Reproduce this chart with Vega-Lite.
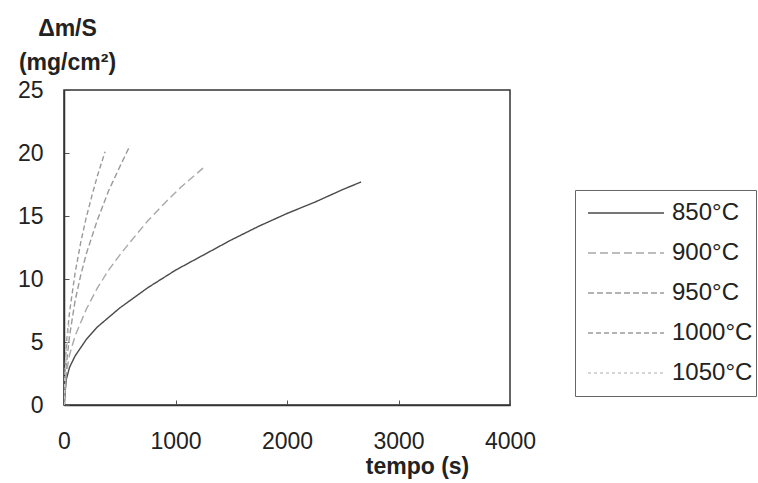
{
  "$schema": "https://vega.github.io/schema/vega-lite/v6.json",
  "width": 446,
  "height": 315,
  "autosize": {"type": "none"},
  "padding": {"left": 64, "top": 90, "right": 248, "bottom": 78},
  "background": "white",
  "config": {
    "view": {"stroke": "#333", "strokeWidth": 1.5},
    "font": "Liberation Sans",
    "axis": {
      "grid": false,
      "labelFlush": false,
      "domainColor": "#333",
      "domainWidth": 1.5,
      "tickColor": "#555",
      "tickSize": -5,
      "labelFont": "Liberation Sans",
      "labelFontSize": 23,
      "labelColor": "#222",
      "titleFont": "Liberation Sans",
      "titleFontSize": 23,
      "titleFontWeight": "bold",
      "titleColor": "#222"
    }
  },
  "data": {
    "values": [
      {"t": 0, "m": 0, "s": "850°C"},
      {"t": 20, "m": 2.0, "s": "850°C"},
      {"t": 50, "m": 3.0, "s": "850°C"},
      {"t": 100, "m": 3.9, "s": "850°C"},
      {"t": 200, "m": 5.2, "s": "850°C"},
      {"t": 300, "m": 6.2, "s": "850°C"},
      {"t": 500, "m": 7.7, "s": "850°C"},
      {"t": 750, "m": 9.3, "s": "850°C"},
      {"t": 1000, "m": 10.7, "s": "850°C"},
      {"t": 1250, "m": 11.9, "s": "850°C"},
      {"t": 1500, "m": 13.1, "s": "850°C"},
      {"t": 1750, "m": 14.2, "s": "850°C"},
      {"t": 2000, "m": 15.2, "s": "850°C"},
      {"t": 2250, "m": 16.1, "s": "850°C"},
      {"t": 2500, "m": 17.1, "s": "850°C"},
      {"t": 2664, "m": 17.7, "s": "850°C"},
      {"t": 0, "m": 0, "s": "900°C"},
      {"t": 20, "m": 2.5, "s": "900°C"},
      {"t": 50, "m": 4.0, "s": "900°C"},
      {"t": 100, "m": 5.5, "s": "900°C"},
      {"t": 200, "m": 7.6, "s": "900°C"},
      {"t": 300, "m": 9.3, "s": "900°C"},
      {"t": 400, "m": 10.7, "s": "900°C"},
      {"t": 500, "m": 11.9, "s": "900°C"},
      {"t": 600, "m": 13.0, "s": "900°C"},
      {"t": 750, "m": 14.6, "s": "900°C"},
      {"t": 900, "m": 16.0, "s": "900°C"},
      {"t": 1050, "m": 17.3, "s": "900°C"},
      {"t": 1247, "m": 18.8, "s": "900°C"},
      {"t": 0, "m": 0, "s": "950°C"},
      {"t": 25, "m": 3.5, "s": "950°C"},
      {"t": 50, "m": 5.5, "s": "950°C"},
      {"t": 100, "m": 8.3, "s": "950°C"},
      {"t": 150, "m": 10.3, "s": "950°C"},
      {"t": 200, "m": 12.0, "s": "950°C"},
      {"t": 300, "m": 14.7, "s": "950°C"},
      {"t": 400, "m": 17.0, "s": "950°C"},
      {"t": 500, "m": 18.9, "s": "950°C"},
      {"t": 592, "m": 20.6, "s": "950°C"},
      {"t": 0, "m": 0, "s": "1000°C"},
      {"t": 10, "m": 3.0, "s": "1000°C"},
      {"t": 25, "m": 5.2, "s": "1000°C"},
      {"t": 50, "m": 7.4, "s": "1000°C"},
      {"t": 100, "m": 10.5, "s": "1000°C"},
      {"t": 150, "m": 12.9, "s": "1000°C"},
      {"t": 200, "m": 14.9, "s": "1000°C"},
      {"t": 250, "m": 16.6, "s": "1000°C"},
      {"t": 300, "m": 18.2, "s": "1000°C"},
      {"t": 368, "m": 20.1, "s": "1000°C"},
      {"t": 0, "m": 0, "s": "1050°C"},
      {"t": 10, "m": 2.5, "s": "1050°C"},
      {"t": 25, "m": 4.5, "s": "1050°C"},
      {"t": 45, "m": 6.5, "s": "1050°C"}
    ]
  },
  "mark": {"type": "line", "strokeWidth": 1.4, "clip": true},
  "encoding": {
    "x": {
      "field": "t",
      "type": "quantitative",
      "scale": {"domain": [0, 4000], "nice": false},
      "axis": {
        "values": [0, 1000, 2000, 3000, 4000],
        "format": "d",
        "labelPadding": 30,
        "title": "tempo (s)",
        "titleX": 353,
        "titleY": 68,
        "titleAlign": "center",
        "titleBaseline": "alphabetic"
      }
    },
    "y": {
      "field": "m",
      "type": "quantitative",
      "scale": {"domain": [0, 25], "nice": false},
      "axis": {
        "values": [0, 5, 10, 15, 20, 25],
        "format": "d",
        "labelPadding": 26,
        "title": ["Δm/S", "(mg/cm²)"],
        "titleAngle": 0,
        "titleX": 3,
        "titleY": -55,
        "titleAlign": "center",
        "titleBaseline": "alphabetic",
        "titleLineHeight": 34
      }
    },
    "color": {
      "field": "s",
      "type": "nominal",
      "scale": {
        "domain": ["850°C", "900°C", "950°C", "1000°C", "1050°C"],
        "range": ["#4a4a4a", "#a8a8a8", "#9a9a9a", "#9a9a9a", "#c8c8c8"]
      },
      "legend": {
        "orient": "none",
        "legendX": 511,
        "legendY": 100,
        "title": null,
        "symbolType": "stroke",
        "symbolSize": 5776,
        "symbolStrokeWidth": 1.4,
        "clipHeight": 40,
        "rowPadding": 0,
        "padding": 3,
        "symbolOffset": 9,
        "labelOffset": 7,
        "labelFont": "Liberation Sans",
        "labelFontSize": 24,
        "labelColor": "#222",
        "strokeColor": "#666",
        "fillColor": "white"
      }
    },
    "strokeDash": {
      "field": "s",
      "type": "nominal",
      "scale": {
        "domain": ["850°C", "900°C", "950°C", "1000°C", "1050°C"],
        "range": [[1, 0], [8, 4], [6, 3], [5, 3], [3, 3]]
      },
      "legend": null
    }
  }
}
